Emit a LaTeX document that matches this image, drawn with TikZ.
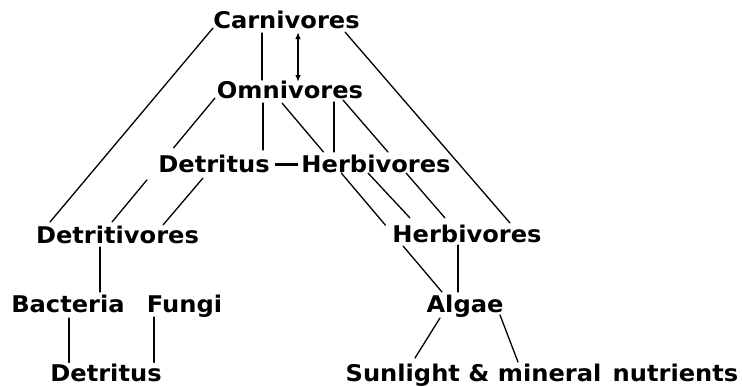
\documentclass[tikz,border=0pt]{standalone}
\usepackage{fontspec}
\newfontfamily\lbl[FakeStretch=1.05]{DejaVu Sans}
\usetikzlibrary{calc,arrows.meta}
\begin{document}
\begin{tikzpicture}[x=1pt,y=-1pt,
  lab/.style={inner sep=0pt, anchor=base, font=\lbl\bfseries\fontsize{23}{27}\selectfont},
  conn/.style={line width=1.3pt, line cap=round}]
\useasboundingbox[fill=white] (0,0) rectangle (742,386);
% nodes
\node[lab] (carn)  at (286.5,28) {Carnivores};
\node[lab] (omni)  at (290,98)   {Omnivores};
\node[lab] (detm)  at (214,172)  {Detritus};
\node[lab] (herbm) at (376,172)  {Herbivores};
\node[lab] (detv)  at (117.5,243) {Detritivores};
\node[lab] (herbr) at (467,242)  {Herbivores};
\node[lab] (bact)  at (68,312)   {Bacteria};
\node[lab] (fungi) at (184.5,312) {Fungi};
\node[lab] (algae) at (465,312)  {Algae};
\node[lab] (detb)  at (106,381.5)  {Detritus};
\node[lab] (sun)   at (473.5,381) {Sunlight \& mineral};
\node[lab] (nut)   at (675.5,381) {nutrients};
% connectors
\draw[conn] ($(carn.base)+(-73.5,0)$) -- ($(detv.base)+(-67.5,-21)$);
\draw[conn] ($(carn.base)+(-24.5,5)$) -- ($(omni.base)+(-28,-18)$);
\draw[conn,{Latex[length=7pt,width=5.5pt]}-{Latex[length=7pt,width=5.5pt]}] ($(carn.base)+(11.5,4)$) -- ($(omni.base)+(8,-16)$);
\draw[conn] ($(carn.base)+(58.5,4)$) -- ($(herbr.base)+(43,-19)$);
% omnivores -> detritivores (behind Detritus)
\coordinate (o5) at ($(omni.base)+(-75,0)$);
\coordinate (d5) at ($(detv.base)+(-5.5,-21)$);
\draw[conn] (o5) -- ($(o5)!0.403!(d5)$) ($(o5)!0.661!(d5)$) -- (d5);
\draw[conn] ($(detm.base)+(-11,6)$) -- ($(detv.base)+(45.5,-18)$);
\draw[conn] ($(omni.base)+(-27,5)$) -- ($(detm.base)+(49,-22)$);
% omnivores -> algae (behind both Herbivores)
\coordinate (o8) at ($(omni.base)+(-8,5)$);
\coordinate (a8) at ($(algae.base)+(-23,-20)$);
\draw[conn] (o8) -- ($(o8)!0.259!(a8)$) ($(o8)!0.370!(a8)$) -- ($(o8)!0.646!(a8)$) ($(o8)!0.757!(a8)$) -- (a8);
\draw[conn] ($(omni.base)+(44,4)$) -- ($(herbm.base)+(-42,-20)$);
% omnivores -> herbivores right (behind Herbivores mid)
\coordinate (o10) at ($(omni.base)+(53,2)$);
\coordinate (h10) at ($(herbr.base)+(-22,-24)$);
\draw[conn] (o10) -- ($(o10)!0.441!(h10)$) ($(o10)!0.619!(h10)$) -- (h10);
\draw[conn] ($(herbm.base)+(-8,1)$) -- ($(herbr.base)+(-57,-24)$);
\draw[line width=3pt] ($(detm.base)+(61,-7.5)$) -- ($(herbm.base)+(-78,-7.5)$);
\draw[conn] ($(herbr.base)+(-9,3)$) -- ($(algae.base)+(-7,-20)$);
\draw[conn] ($(detv.base)+(-17.5,4)$) -- ($(bact.base)+(32,-20)$);
\draw[conn] ($(bact.base)+(1,6)$) -- ($(detb.base)+(-37,-19)$);
\draw[conn] ($(fungi.base)+(-30.5,5)$) -- ($(detb.base)+(48,-19)$);
\draw[conn] ($(algae.base)+(-25,6)$) -- ($(sun.base)+(-58.5,-23)$);
\draw[conn] ($(algae.base)+(35,3)$) -- ($(sun.base)+(44.5,-19)$);
\end{tikzpicture}
\end{document}
